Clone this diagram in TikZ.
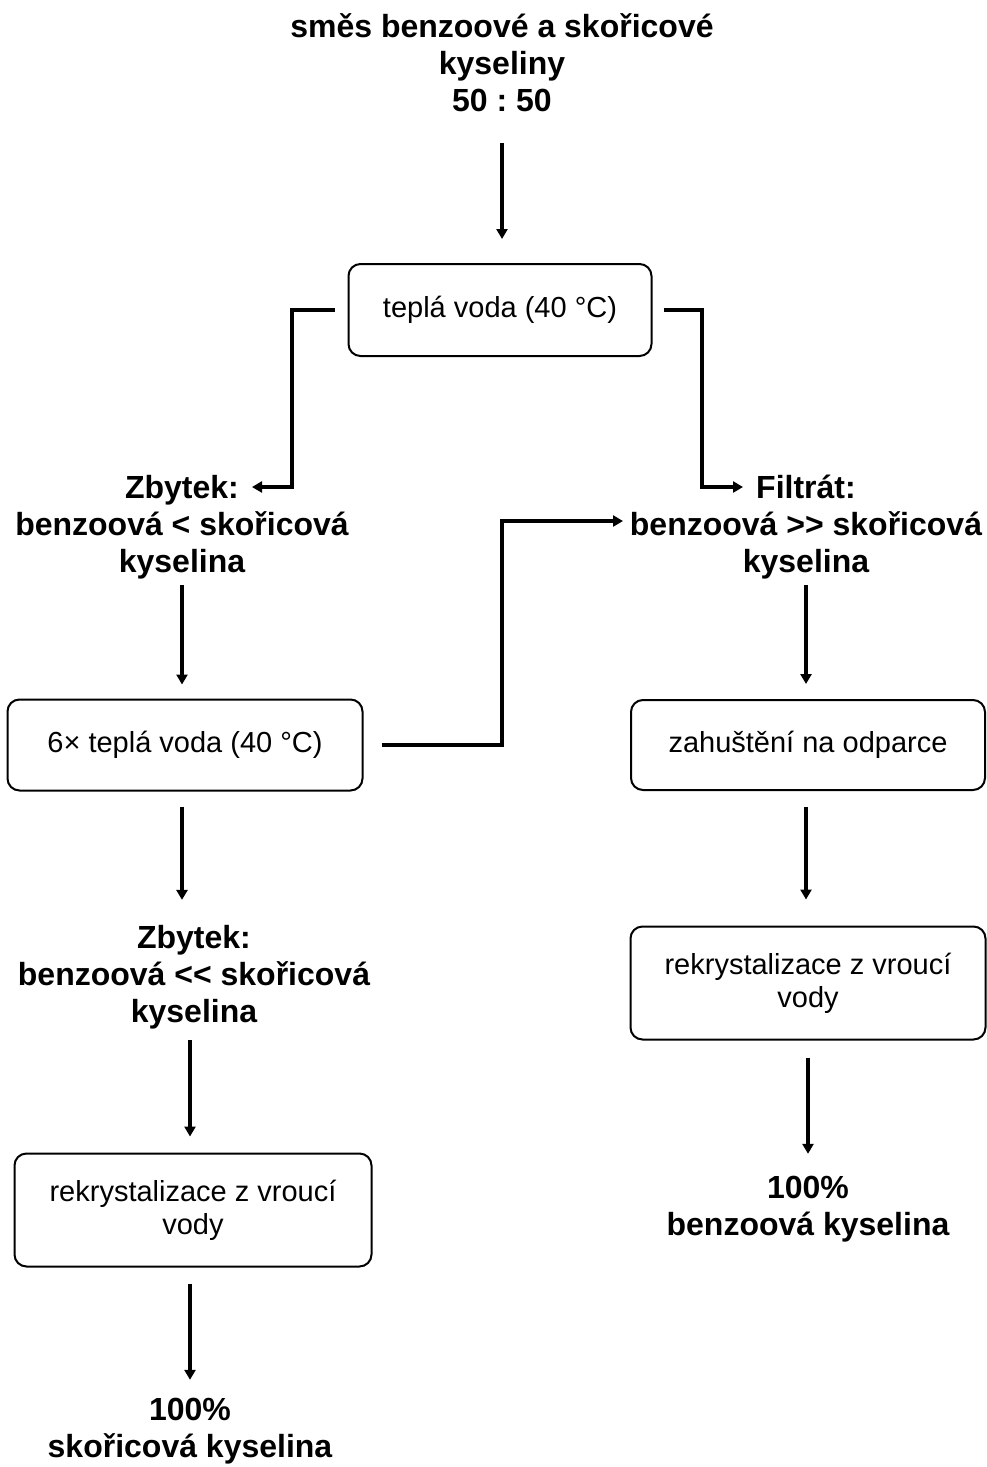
\documentclass[tikz,border=0pt]{standalone}
\usepackage{fontspec}
\setmainfont{Liberation Sans}
\usetikzlibrary{arrows.meta}
\frenchspacing

\begin{document}
\begin{tikzpicture}
    [x=1pt, y=-1pt, >={Triangle[length=10pt, width=11pt]},
     box/.style={draw, line width=2pt, rounded corners=12pt, align=center, font=\fontsize{29}{33}\selectfont},
     res/.style={align=center, inner sep=0pt, font=\fontsize{32}{37}\selectfont\bfseries},
     flow/.style={->, line width=4pt}]
    \useasboundingbox (0,0) rectangle (987,1467);
    % texts and boxes
    \node[res] (mix) at (502,63) {směs benzoové a skořicové\\kyseliny\\50 : 50};
    \node[box, minimum width=303pt, minimum height=92pt] (wash1) at (500,310) {teplá voda (40 °C)};
    \node[res] (zb1) at (182,527) {Zbytek:\\benzoová < skořicová\\kyselina};
    \node[res] (fil) at (806,527) {Filtrát:\\benzoová >\kern0pt> skořicová\\kyselina};
    \node[box, minimum width=355pt, minimum height=91pt] (wash6) at (185,745) {6× teplá voda (40 °C)};
    \node[box, minimum width=354pt, minimum height=90pt] (evap) at (808,745) {zahuštění na odparce};
    \node[res] (zb2) at (194,977) {Zbytek:\\benzoová <\kern0pt< skořicová\\kyselina};
    \node[box, minimum width=355pt, minimum height=113pt] (recR) at (808,983) {rekrystalizace z vroucí\\vody};
    \node[box, minimum width=357pt, minimum height=113pt] (recL) at (193,1210) {rekrystalizace z vroucí\\vody};
    \node[res] (outL) at (190,1431) {100\%\\skořicová kyselina};
    \node[res] (outR) at (808,1209) {100\%\\benzoová kyselina};
    \coordinate (zb1in) at (252,487);
    \coordinate (filin) at (743,487);
    \coordinate (filin2) at (623,521);
    % connectors
    \draw[flow, shorten <=31pt, shorten >=24pt] (mix.south) -- (mix.south |- wash1.north);
    \draw[flow] ([xshift=-13pt]wash1.west) -| ([xshift=40pt]zb1in) -- (zb1in);
    \draw[flow] ([xshift=11pt]wash1.east) -| ([xshift=-41pt]filin) -- (filin);
    \draw[flow] ([xshift=18pt]wash6.east) -| ([xshift=-121pt]filin2) -- (filin2);
    \draw[flow, shorten <=6pt, shorten >=14pt] (zb1.south) -- (zb1.south |- wash6.north);
    \draw[flow, shorten <=15pt, shorten >=25pt] (wash6.south -| zb1.south) -- (zb1.south |- zb2.north);
    \draw[flow, shorten <=11pt, shorten >=16pt] (zb2.south -| outL.north) -- (recL.north -| outL.north);
    \draw[flow, shorten <=16pt, shorten >=18pt] (recL.south -| outL.north) -- (outL.north);
    \draw[flow, shorten <=6pt, shorten >=15pt] (fil.south) -- (fil.south |- evap.north);
    \draw[flow, shorten <=16pt, shorten >=26pt] (evap.south -| fil.south) -- (fil.south |- recR.north);
    \draw[flow, shorten <=17pt, shorten >=22pt] (recR.south) -- (outR.north);
\end{tikzpicture}
\end{document}
